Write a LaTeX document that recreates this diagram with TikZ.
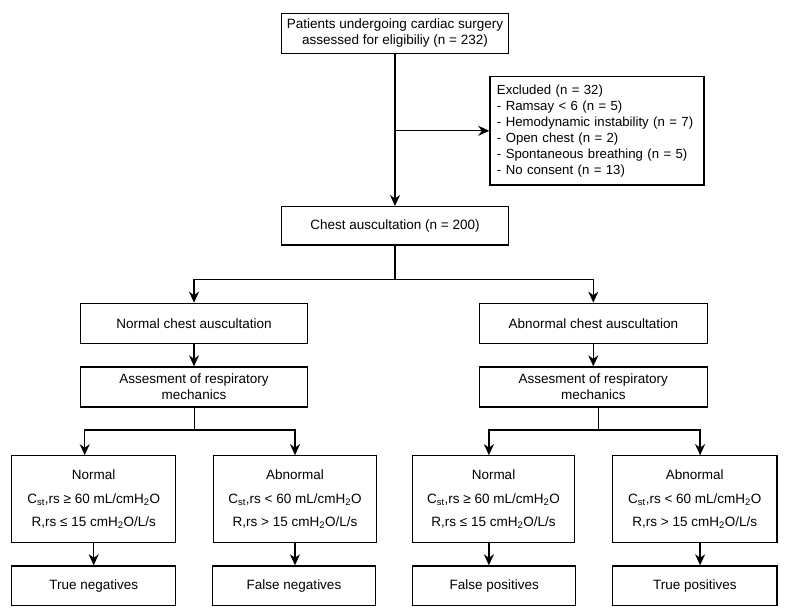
\documentclass[tikz,border=0pt]{standalone}
\usepackage{fontspec}
\setmainfont{Liberation Sans}
\usetikzlibrary{arrows.meta}
\begin{document}
\begin{tikzpicture}[x=1pt,y=-1pt,
  box/.style={draw, line width=1.3pt, inner sep=0pt, align=center,
    font=\fontsize{13.5}{16}\selectfont},
  arr/.style={line width=1.3pt, -{Stealth[length=11pt,width=10pt,inset=3.5pt]}},
  ln/.style={line width=1.3pt}]
\useasboundingbox (0,0) rectangle (786,615);
% top part
\node[box, minimum width=227pt, minimum height=40pt] (top) at (395,33.3)
  {Patients undergoing cardiac surgery\\assessed for eligibiliy (n = 232)};
\node[box, anchor=west, align=left, text width=200pt, inner xsep=7pt,
  minimum height=108.3pt, font=\fontsize{13.2}{16}\selectfont] (excl) at (489.3,130.8)
  {Excluded (n = 32)\\- Ramsay < 6 (n = 5)\\- Hemodynamic instability (n = 7)\\- Open chest (n = 2)\\- Spontaneous breathing (n = 5)\\- No consent (n = 13)};
\node[box, minimum width=227pt, minimum height=38.3pt] (chest) at (395,225.8)
  {Chest auscultation (n = 200)};
% second level
\node[box, minimum width=226.5pt, minimum height=40pt] (nca) at (194,323.3)
  {Normal chest auscultation};
\node[box, minimum width=228pt, minimum height=40pt] (aca) at (593.3,323.3)
  {Abnormal chest auscultation};
\node[box, minimum width=226.5pt, minimum height=40pt] (aL) at (194,387)
  {Assesment of respiratory\\mechanics};
\node[box, minimum width=228pt, minimum height=40pt] (aR) at (593.3,387)
  {Assesment of respiratory\\mechanics};
% measurement boxes
\node[box, minimum width=164pt, minimum height=87pt] (m1) at (93.7,499.3)
  {Normal\\[7.5pt]C\textsubscript{st},rs ≥ 60 mL/cmH\textsubscript{2}O\\[7.5pt]R,rs ≤ 15 cmH\textsubscript{2}O/L/s};
\node[box, minimum width=163.4pt, minimum height=87pt] (m2) at (295,499.3)
  {Abnormal\\[7.5pt]C\textsubscript{st},rs < 60 mL/cmH\textsubscript{2}O\\[7.5pt]R,rs > 15 cmH\textsubscript{2}O/L/s};
\node[box, minimum width=162pt, minimum height=87pt] (m3) at (493.5,499.3)
  {Normal\\[7.5pt]C\textsubscript{st},rs ≥ 60 mL/cmH\textsubscript{2}O\\[7.5pt]R,rs ≤ 15 cmH\textsubscript{2}O/L/s};
\node[box, minimum width=164.5pt, minimum height=87pt] (m4) at (694.8,499.3)
  {Abnormal\\[7.5pt]C\textsubscript{st},rs < 60 mL/cmH\textsubscript{2}O\\[7.5pt]R,rs > 15 cmH\textsubscript{2}O/L/s};
% result boxes
\node[box, minimum width=164pt, minimum height=39.7pt] (r1) at (93.7,585.8) {True negatives};
\node[box, minimum width=163.4pt, minimum height=39.7pt] (r2) at (294,585.8) {False negatives};
\node[box, minimum width=163pt, minimum height=39.7pt] (r3) at (494.2,585.8) {False positives};
\node[box, minimum width=164.5pt, minimum height=39.7pt] (r4) at (694.8,585.8) {True positives};
% connectors
\draw[arr] (top.south) -- (chest.north);
\draw[arr] (top.south |- excl.west) -- (excl.west);
\coordinate (j0) at (395,279.3);
\draw[ln] (chest.south) -- (j0);
\draw[arr] (j0) -| (nca.north);
\draw[arr] (j0) -| (aca.north);
\draw[arr] (nca.south) -- (aL.north);
\draw[arr] (aca.south) -- (aR.north);
\coordinate (jL) at (194.3,430);
\draw[ln] (aL.south -| jL) -- (jL);
\draw[arr] (jL) -| ([xshift=-9pt]m1.north);
\draw[arr] (jL) -| (m2.north);
\coordinate (jR) at (598.7,430);
\draw[ln] (aR.south -| jR) -- (jR);
\draw[arr] (jR) -| ([xshift=-4.6pt]m3.north);
\draw[arr] (jR) -| ([xshift=5.3pt]m4.north);
\draw[arr] (m1.south) -- (r1.north);
\draw[arr] (m2.south) -- (m2.south |- r2.north);
\draw[arr] ([xshift=-4.6pt]m3.south) -- ([xshift=-4.6pt]m3.south |- r3.north);
\draw[arr] ([xshift=5.3pt]m4.south) -- ([xshift=5.3pt]m4.south |- r4.north);
\end{tikzpicture}
\end{document}
